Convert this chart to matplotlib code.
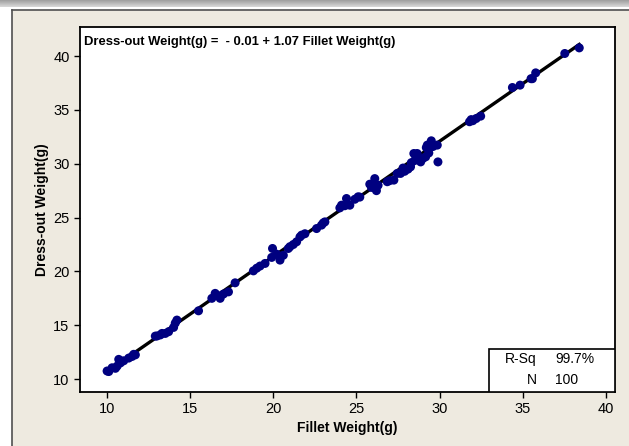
import numpy as np
import matplotlib.pyplot as plt
from matplotlib.patches import Rectangle

# valeurs
fillet = [10.0, 10.1, 10.5, 10.6, 10.7, 10.8, 11.0, 11.3, 11.5, 11.6, 11.7,
          12.9, 13.0, 13.3, 13.5, 13.7, 14.0, 14.1, 14.2, 15.5,
          16.3, 16.5, 16.8, 17.0, 17.3, 17.7, 18.8, 19.2, 19.5, 19.9, 19.95,
          20.2, 20.4, 20.6, 20.9, 21.2, 21.4, 21.6, 21.7, 21.9,
          22.6, 22.9, 23.0, 24.0, 24.1, 24.3, 24.4, 24.6, 24.9, 25.1,
          25.8, 25.9, 26.1, 26.2, 26.3, 26.85, 27.0, 27.25, 27.45, 27.65,
          27.9, 28.1, 28.25, 28.45, 28.65, 28.5, 28.86, 29.0, 29.16, 29.26,
          29.35, 29.5, 29.6, 29.86, 29.9, 29.2, 28.8,
          31.8, 31.9, 32.0, 32.2, 32.47, 34.38, 34.84, 35.5, 35.58, 35.78,
          37.53, 38.4,
          10.3, 13.2, 16.6, 19.0, 21.0, 23.1, 25.2, 26.0, 27.8, 28.3]
dressout = [10.75, 10.7, 11.0, 11.2, 11.83, 11.5, 11.7, 11.95, 12.1, 12.3, 12.25,
            13.99, 14.0, 14.24, 14.24, 14.4, 14.8, 15.2, 15.48, 16.34,
            17.5, 17.96, 17.5, 17.9, 18.1, 18.94, 20.05, 20.5, 20.74, 21.3, 22.13,
            21.6, 21.05, 21.5, 22.13, 22.5, 22.75, 23.2, 23.37, 23.5,
            23.98, 24.3, 24.5, 25.9, 26.15, 26.1, 26.77, 26.15, 26.7, 26.93,
            28.1, 27.8, 28.62, 27.5, 28.0, 28.33, 28.43, 28.48, 29.1, 29.1,
            29.3, 29.5, 29.71, 30.95, 30.95, 30.3, 30.17, 30.5, 30.64, 31.73,
            31.0, 32.13, 31.6, 31.73, 30.17, 31.5, 30.4,
            33.9, 34.1, 34.0, 34.2, 34.42, 37.08, 37.3, 37.9, 37.9, 38.44,
            40.24, 40.76,
            11.05, 14.1, 17.8, 20.3, 22.3, 24.6, 26.9, 27.9, 29.6, 30.1]

b0, b1 = -0.01, 1.07
r_sq = "99.7%"
n_obs = 100

plt.rcParams['font.family'] = ['Liberation Sans', 'DejaVu Sans']
fs = 10.5

fig = plt.figure(figsize=(6.29, 4.46), dpi=100, facecolor='white')

# fond beige et bandeau gris du haut
fig.patches.append(Rectangle((12/629, 0), 1, 1 - 10/446, transform=fig.transFigure,
                             facecolor='#EEEAE0', edgecolor='none', zorder=-5))
fig.add_artist(plt.Line2D([12/629, 12/629], [0, 1 - 10/446], color='#505050', lw=1.2,
                          transform=fig.transFigure))
fig.add_artist(plt.Line2D([12/629, 1], [1 - 10/446, 1 - 10/446], color='#505050', lw=1.2,
                          transform=fig.transFigure))
gax = fig.add_axes([0, 1 - 7/446, 1, 7/446])
gax.imshow(np.linspace(0.62, 0.85, 20).reshape(-1, 1), cmap='gray', aspect='auto',
           vmin=0, vmax=1, extent=[0, 1, 0, 1])
gax.axis('off')

ax = fig.add_axes([80/629, 54/446, 535/629, 365/446])
ax.set_zorder(2)
ax.set_facecolor('white')

xs = np.array([min(fillet), max(fillet)])
ax.plot(xs, b0 + b1 * xs, color='black', lw=2.4, zorder=2)
ax.scatter(fillet, dressout, s=42, color='#000080', edgecolors='none', zorder=3)

ax.set_xlim(8.37, 40.55)
ax.set_ylim(8.8, 42.7)
ax.set_xticks([10, 15, 20, 25, 30, 35, 40])
ax.set_yticks([10, 15, 20, 25, 30, 35, 40])
ax.tick_params(direction='out', length=4, width=1, labelsize=fs, colors='black')
for s in ax.spines.values():
    s.set_linewidth(1.3)

ax.set_xlabel('Fillet Weight(g)', fontsize=10, fontweight='bold', labelpad=3)
ax.set_ylabel('Dress-out Weight(g)', fontsize=10, fontweight='bold', labelpad=3)

ax.text(0.007, 0.975, 'Dress-out Weight(g) =  - 0.01 + 1.07 Fillet Weight(g)',
        transform=ax.transAxes, ha='left', va='top', fontsize=9.4, fontweight='bold')

# boite des stats
bx = (489 - 80) / 535
bh = (392 - 349) / 365
ax.add_patch(Rectangle((bx, 0), 1 - bx, bh, transform=ax.transAxes, facecolor='white',
                       edgecolor='black', lw=1.2, zorder=4))
ax.text((537 - 80) / 535, (392 - 359) / 365, 'R-Sq', transform=ax.transAxes,
        ha='right', va='center', fontsize=10, zorder=5)
ax.text((555 - 80) / 535, (392 - 359) / 365, r_sq, transform=ax.transAxes,
        ha='left', va='center', fontsize=10, zorder=5)
ax.text((537 - 80) / 535, (392 - 380) / 365, 'N', transform=ax.transAxes,
        ha='right', va='center', fontsize=10, zorder=5)
ax.text((555 - 80) / 535, (392 - 380) / 365, str(n_obs), transform=ax.transAxes,
        ha='left', va='center', fontsize=10, zorder=5)

fig.savefig('out.png', dpi=100)
